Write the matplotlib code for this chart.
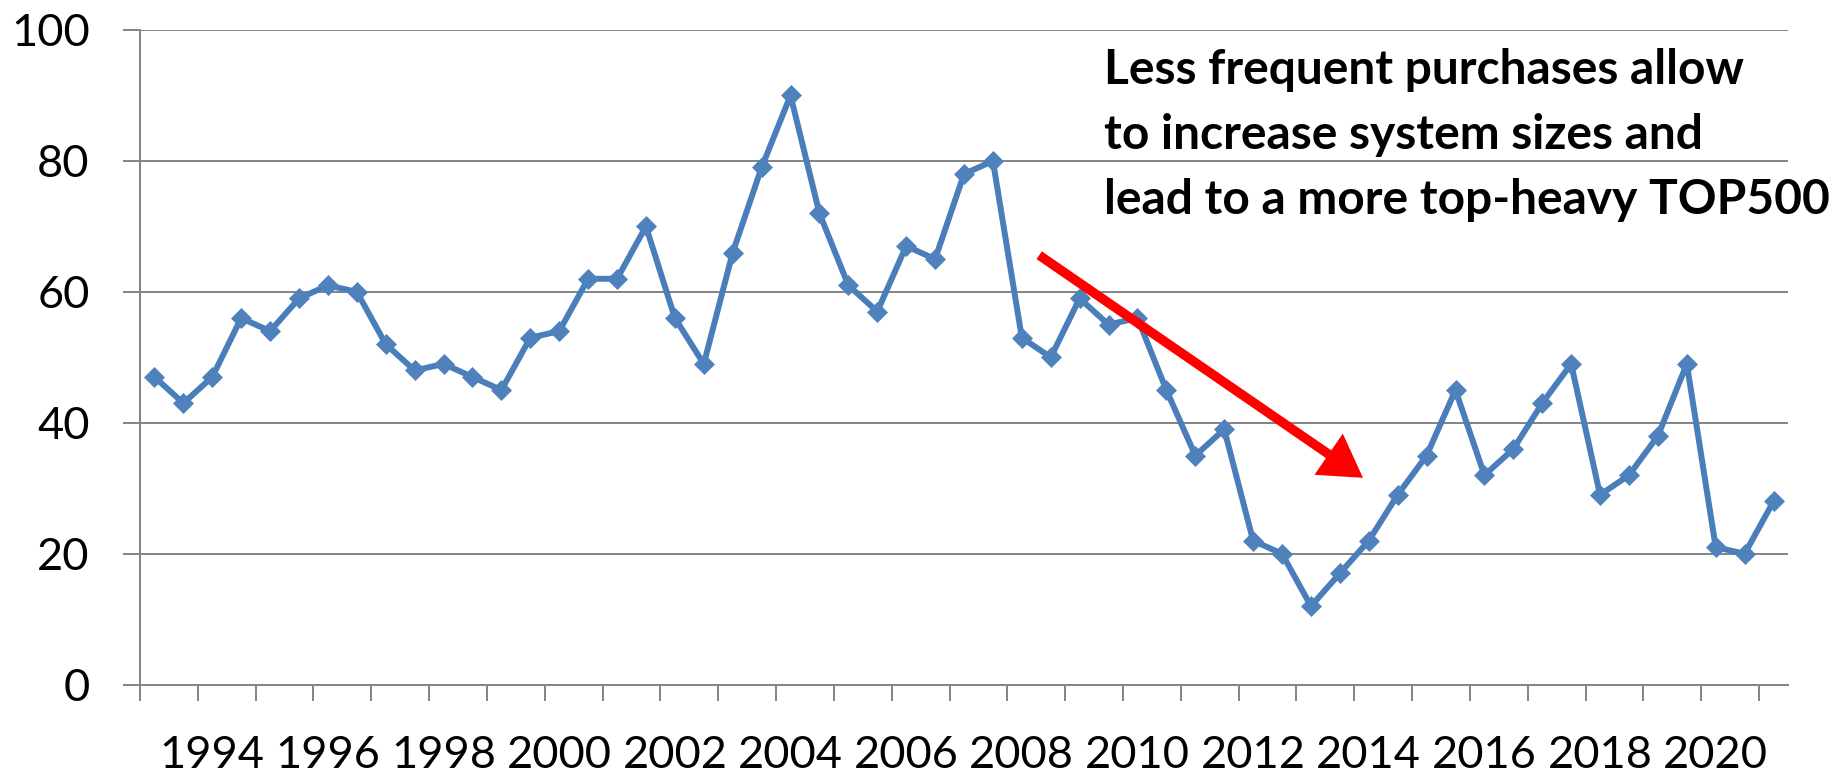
import matplotlib
matplotlib.use("Agg")
import matplotlib.pyplot as plt
from matplotlib.patches import FancyArrowPatch
from matplotlib import patheffects as pe
import numpy as np

# One value per TOP500 list, June 1993 through June 2021 (two lists per year)
first_year = 1993
values = [47, 43, 47, 56, 54, 59, 61, 60, 52, 48, 49, 47, 45, 53, 54, 62, 62, 70,
          56, 49, 66, 79, 90, 72, 61, 57, 67, 65, 78, 80, 53, 50, 59, 55, 56, 45,
          35, 39, 22, 20, 12, 17, 22, 29, 35, 45, 32, 36, 43, 49, 29, 32, 38, 49,
          21, 20, 28]
label_years = list(range(1994, 2021, 2))
y_ticks = [0, 20, 40, 60, 80, 100]
note_lines = ["Less frequent purchases allow",
              "to increase system sizes and",
              "lead to a more top-heavy TOP500"]

W, H, DPI = 1841, 773, 100
GRID = "#868686"
BLUE = "#4A7EBB"
FONT = "Lato"

fig = plt.figure(figsize=(W / DPI, H / DPI), dpi=DPI)
left, right, top, bottom = 140, 1788, 30, 684.7
ax = fig.add_axes([left / W, 1 - bottom / H, (right - left) / W, (bottom - top) / H])

n = len(values)
x = np.arange(n)
ax.plot(x, values, color=BLUE, lw=4.3, marker="D", markersize=10.5,
        markerfacecolor="#4F81BD", markeredgecolor="#4F81BD", markeredgewidth=0.5,
        zorder=3, clip_on=False)

ax.set_xlim(-0.5, n - 0.5)
ax.set_ylim(0, 100)

# Year labels sit on the June list of each labelled year
label_pos = [2 * (yr - first_year) for yr in label_years]
ax.set_xticks(label_pos)
ax.set_xticklabels([str(y) for y in label_years])
ax.set_xticks(np.arange(-0.5, n - 1, 2), minor=True)
ax.tick_params(axis="x", which="major", length=0, pad=36, labelsize=32.5)
ax.tick_params(axis="x", which="minor", length=11.5, width=1.44, color=GRID)

ax.set_yticks(y_ticks)
ax.tick_params(axis="y", length=12.2, width=1.44, color=GRID, pad=24, labelsize=32.5)
ax.yaxis.grid(True, color=GRID, lw=1.44)
ax.set_axisbelow(True)

for lab in ax.get_xticklabels() + ax.get_yticklabels():
    lab.set_fontfamily(FONT)

for s in ("top", "right"):
    ax.spines[s].set_visible(False)
for s in ("left", "bottom"):
    ax.spines[s].set_color(GRID)
    ax.spines[s].set_linewidth(1.44)

# Annotation text, one line per baseline
baselines = [84, 149, 214]
for line, yb in zip(note_lines, baselines):
    fig.text(1104 / W, 1 - yb / H, line, fontfamily=FONT, fontweight="bold",
             fontsize=34.5, va="baseline", ha="left", color="black")

# Red trend arrow
arrow = FancyArrowPatch(posA=(30.6, 65.6), posB=(41.8, 31.6),
                        arrowstyle="-|>,head_length=20,head_width=12",
                        mutation_scale=1, color="#FF0000", lw=6.8,
                        shrinkA=0, shrinkB=0, capstyle="butt", joinstyle="miter",
                        zorder=4)
arrow.set_path_effects([pe.SimplePatchShadow(offset=(2.5, -2.5), shadow_rgbFace="#808080", alpha=0.35),
                        pe.Normal()])
ax.add_patch(arrow)

fig.savefig("out.png", dpi=DPI)
